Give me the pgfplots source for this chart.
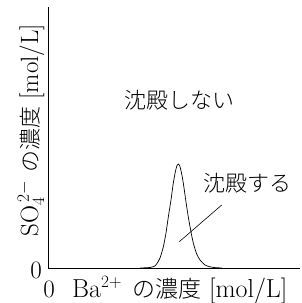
\documentclass[border=0pt]{standalone}
\usepackage{pgfplots}
\pgfplotsset{compat=1.18}
\usepackage{fontspec}
\newfontfamily\cjk{Noto Sans CJK JP Light}
\begin{document}
\begin{tikzpicture}[x=1pt,y=1pt]
\path[use as bounding box] (0,0) rectangle (301,303);
\begin{axis}[
  at={(48pt,35pt)}, anchor=south west,
  width=252pt, height=261pt, scale only axis,
  xmin=48, xmax=300, ymin=0, ymax=261,
  axis x line=bottom, axis y line=left,
  axis line style={-, line width=0.8pt},
  xtick=\empty, ytick=\empty,
  clip=false,
]
\addplot[smooth, tension=0.4, black, line width=0.7pt] coordinates {
(140,0) (150,0.5) (155,2) (157,4.5) (160,10) (163.3,21) (166,35) (168.3,51) (171,68)
(173.3,85) (175.5,97) (177,102.5) (178.3,104) (179.8,102) (181.5,95) (183.3,85)
(186,66) (188.3,51) (191,36) (193.3,25) (196.5,14.5) (200,8) (205,3) (210,1.2) (215,0.4) (222,0)
};
\addplot[black, line width=0.6pt] coordinates {(179.3,26.3) (221.7,63)};
\node[font=\fontsize{22}{26}\selectfont\cjk, inner sep=0pt] at (axis cs:179.5,168) {沈殿しない};
\node[font=\fontsize{22}{26}\selectfont\cjk, inner sep=0pt] at (axis cs:247.5,85) {沈殿する};
\node[font=\fontsize{25}{30}\selectfont, inner sep=0pt, anchor=base] at (axis cs:36,-10) {0};
\node[font=\fontsize{25}{30}\selectfont, inner sep=0pt, anchor=base] at (axis cs:49,-29) {0};
\node[font=\fontsize{26}{30}\selectfont, inner sep=0pt, anchor=base west] at (axis cs:72,-29) {Ba$^{2+}$\hspace{10pt}{\fontsize{23}{27}\selectfont\cjk の濃度}\hspace{8pt}[mol/L]};
\node[font=\fontsize{25}{30}\selectfont, inner sep=0pt, anchor=base, rotate=90] at (axis cs:38,138) {SO$_4^{\,2-}$ {\fontsize{22}{26}\selectfont\cjk の濃度} [mol/L]};
\end{axis}
\end{tikzpicture}
\end{document}
